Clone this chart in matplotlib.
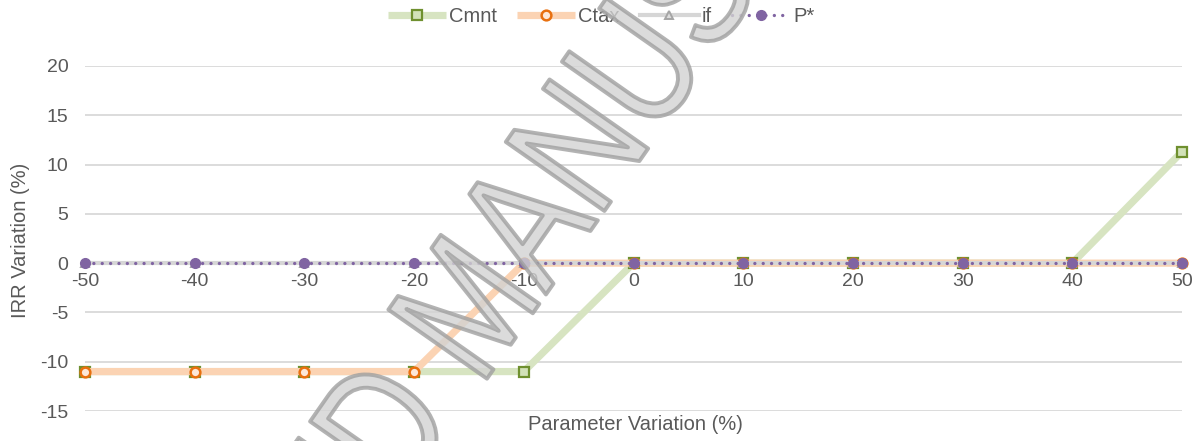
import matplotlib
matplotlib.use("Agg")
import matplotlib.pyplot as plt
from matplotlib.font_manager import FontProperties
from matplotlib.textpath import TextPath
from matplotlib.patches import PathPatch
from matplotlib.transforms import Affine2D, IdentityTransform

plt.rcParams["font.family"] = ["Liberation Sans", "DejaVu Sans"]
plt.rcParams["axes.unicode_minus"] = False

# Parameter variation (%) and resulting IRR variation (%) per parameter
variation = [-50, -40, -30, -20, -10, 0, 10, 20, 30, 40, 50]
cmnt = [-11, -11, -11, -11, -11, 0, 0, 0, 0, 0, 11.3]
ctax = [-11, -11, -11, -11, 0, 0, 0, 0, 0, 0, 0]
if_ = [0, 0, 0, 0, 0, 0, 0, 0, 0, 0, 0]
p_star = [0, 0, 0, 0, 0, 0, 0, 0, 0, 0, 0]

x_ticks = [-50, -40, -30, -20, -10, 0, 10, 20, 30, 40, 50]
y_ticks = [-15, -10, -5, 0, 5, 10, 15, 20]

TEXT = "#595959"
GRID = "#d9d9d9"
W, H = 1198, 441

fig = plt.figure(figsize=(W / 100, H / 100), dpi=100)
ax = fig.add_axes([85 / W, 1 - 411 / H, (1182 - 85) / W, (411 - 66) / H])

ax.set_xlim(-50, 50)
ax.set_ylim(-15, 20)
ax.set_yticks(y_ticks)
ax.set_xticks(x_ticks)
ax.yaxis.grid(True, color=GRID, linewidth=1.3)
ax.set_axisbelow(True)
for s in ax.spines.values():
    s.set_visible(False)
# x tick labels sit on the zero line
ax.spines["bottom"].set_position(("data", 0))
ax.tick_params(axis="x", length=0, pad=7, labelsize=14, labelcolor=TEXT)
ax.tick_params(axis="y", length=0, pad=12, labelsize=14, labelcolor=TEXT)

l_cmnt, = ax.plot(variation, cmnt, color="#d7e4c1", linewidth=5.2,
                  marker="s", markersize=7, markerfacecolor="#d2e2b8",
                  markeredgecolor="#6f902f", markeredgewidth=1.6,
                  clip_on=False, zorder=3, solid_capstyle="butt")
l_ctax, = ax.plot(variation, ctax, color="#fbd3b3", linewidth=5.2,
                  marker="o", markersize=7, markerfacecolor="#fde8d8",
                  markeredgecolor="#e8700f", markeredgewidth=1.8,
                  clip_on=False, zorder=4, solid_capstyle="butt")
l_if, = ax.plot(variation, if_, color="#d6d6d6", linewidth=3,
                marker="^", markersize=6, markerfacecolor="#dcdcdc",
                markeredgecolor="#a5a5a5", markeredgewidth=1.4,
                clip_on=False, zorder=5)
l_p, = ax.plot(variation, p_star, color="#8064a2", linewidth=2.4,
               linestyle=(0, (0.01, 2.5)), dash_capstyle="round",
               marker="o", markersize=7, markerfacecolor="#8064a2",
               markeredgecolor="#8064a2",
               clip_on=False, zorder=6)

fig.text(21 / W, 1 - 240 / H, "IRR Variation (%)", rotation=90,
         ha="center", va="center", fontsize=14.5, color=TEXT)
fig.text(635 / W, 1 - 425 / H, "Parameter Variation (%)",
         ha="center", va="center", fontsize=14.5, color=TEXT)

fig.legend([l_cmnt, l_ctax, l_if, l_p], ["Cmnt", "Ctax", "if", "P*"],
           loc="center", bbox_to_anchor=(601 / W, 1 - 17 / H),
           ncol=4, frameon=False, fontsize=14.5, labelcolor=TEXT,
           handlelength=2.9, handletextpad=0.15, columnspacing=1.0,
           numpoints=1, borderpad=0, borderaxespad=0)

# diagonal manuscript stamp, built as a glyph outline in pixel units
stamp = "ACCEPTED MANUSCRIPT"
stamp_prop = FontProperties(family="Liberation Sans")
stamp_size = 175
stamp_path = TextPath((0, 0), stamp, size=stamp_size, prop=stamp_prop)
x_m = TextPath((0, 0), "ACCEPTED M", size=stamp_size, prop=stamp_prop).get_extents().x1
x_a = TextPath((0, 0), "ACCEPTED MA", size=stamp_size, prop=stamp_prop).get_extents().x1
anchor_x = (x_m + x_a) / 2
anchor_y = 0.36 * stamp_size
stamp_tf = (Affine2D().translate(-anchor_x, -anchor_y).scale(0.78, 1.0)
            .rotate_deg(55).translate(517, H - 226))
fig.add_artist(PathPatch(stamp_path, transform=stamp_tf + IdentityTransform(),
                         facecolor="#d2d2d2", edgecolor="#a0a0a0",
                         linewidth=2.8, joinstyle="round", alpha=0.8,
                         zorder=20))

fig.savefig("out.png", dpi=100)
